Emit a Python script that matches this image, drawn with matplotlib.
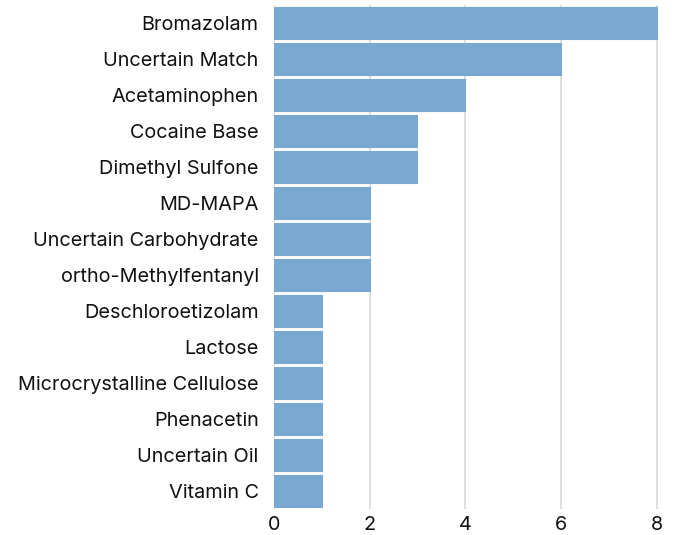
import matplotlib
matplotlib.use("Agg")
import matplotlib.pyplot as plt

names = ["Bromazolam", "Uncertain Match", "Acetaminophen", "Cocaine Base",
         "Dimethyl Sulfone", "MD-MAPA", "Uncertain Carbohydrate",
         "ortho-Methylfentanyl", "Deschloroetizolam", "Lactose",
         "Microcrystalline Cellulose", "Phenacetin", "Uncertain Oil", "Vitamin C"]
counts = [8, 6, 4, 3, 3, 2, 2, 2, 1, 1, 1, 1, 1, 1]
xticks = [0, 2, 4, 6, 8]

plt.rcParams["font.family"] = ["Inter", "DejaVu Sans"]

fig = plt.figure(figsize=(6.79, 5.35), dpi=100)
ax = fig.add_axes([0.4035, 0.048, 0.567, 0.942])

ypos = list(range(len(names)))
ax.barh(ypos, counts, height=0.89, color="#79a9d1", edgecolor="#79a9d1",
        linewidth=0.8, joinstyle="round", zorder=3)

ax.set_yticks(ypos)
ax.set_yticklabels(names, fontsize=14.3, color="#111111")
ax.set_ylim(len(names) - 0.5, -0.5)
ax.set_xlim(0, 8.05)
ax.set_xticks(xticks)
ax.set_xticklabels([str(v) for v in xticks], fontsize=14.3, color="#111111")
ax.tick_params(axis="both", length=0)
ax.tick_params(axis="x", pad=5)
ax.tick_params(axis="y", pad=11)
ax.grid(axis="x", color="#d9d9d9", linewidth=1.2, zorder=0)
for s in ax.spines.values():
    s.set_visible(False)

fig.savefig("out.png", dpi=100)
